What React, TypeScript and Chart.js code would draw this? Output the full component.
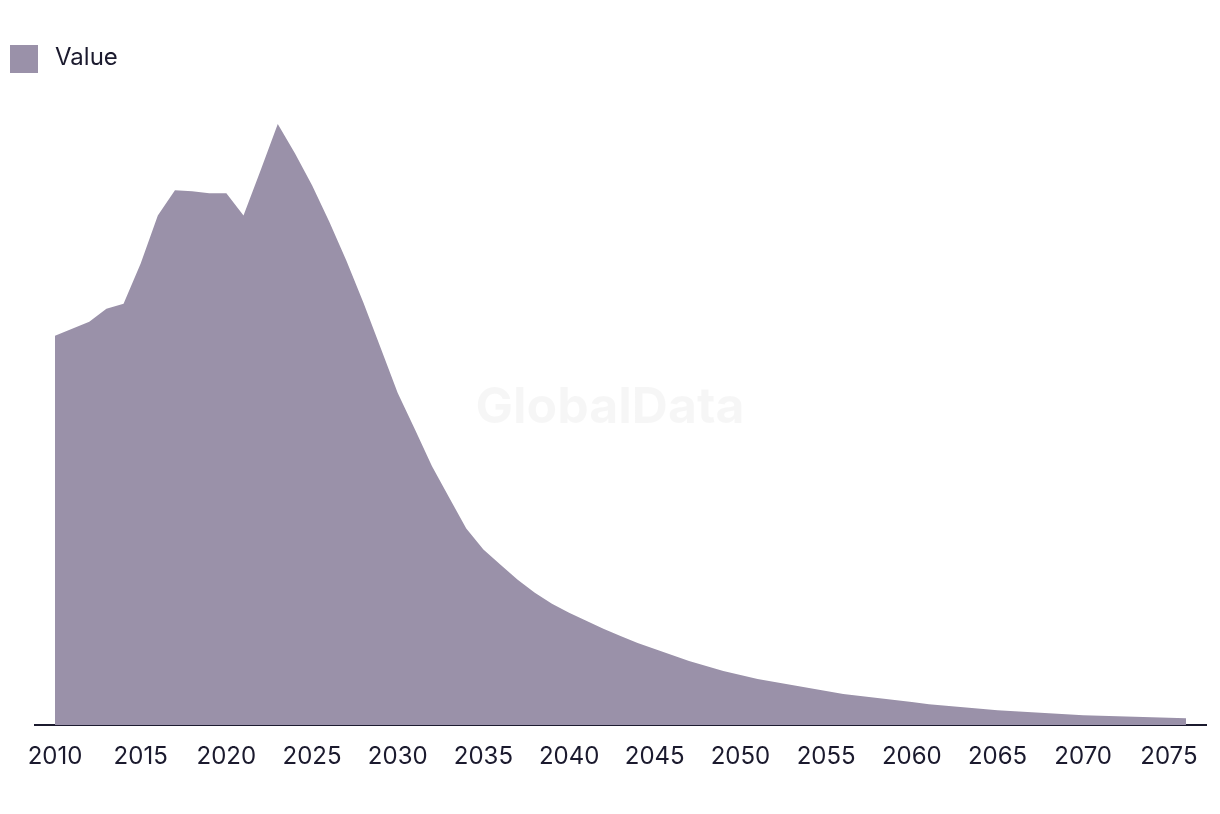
import React, { useEffect, useRef } from "react";
import { Chart, registerables } from "chart.js";

Chart.register(...registerables);

const years: number[] = [];
for (let y = 2010; y <= 2076; y++) years.push(y);

const values: number[] = [
  388, 395, 402, 415, 420, 460, 508, 533, 532, 530,
  530, 508, 553, 599, 570, 538, 502, 463, 421, 376,
  331, 295, 258, 227, 196, 175, 160, 145, 132, 121,
  112, 104, 96, 89, 82, 76, 70, 64, 59, 54,
  50, 46, 43, 40, 37, 34, 31, 29, 27, 25,
  23, 21, 19.5, 18, 16.5, 15, 14, 13, 12, 11,
  10, 9.5, 9, 8.3, 7.8, 7.4, 7,
];

const tickYears: number[] = [2010, 2015, 2020, 2025, 2030, 2035, 2040, 2045, 2050, 2055, 2060, 2065, 2070, 2075];

const seriesLabel = "Value";
const fillColor = "#9a91a9";
const textColor = "#1b1a2e";
const FONT = "Inter, 'Liberation Sans', sans-serif";

const watermarkPlugin = {
  id: "watermark",
  beforeDatasetsDraw(chart: any) {
    const ctx = chart.ctx;
    ctx.save();
    ctx.font = `bold 50px ${FONT}`;
    ctx.fillStyle = "rgba(0,0,0,0.035)";
    ctx.textAlign = "center";
    ctx.textBaseline = "middle";
    ctx.fillText("GlobalData", 610, 408);
    ctx.restore();
  },
};

const legendPlugin = {
  id: "customLegend",
  afterDraw(chart: any) {
    const ctx = chart.ctx;
    ctx.save();
    ctx.fillStyle = fillColor;
    ctx.fillRect(10, 45, 28, 28);
    ctx.font = `24px ${FONT}`;
    ctx.fillStyle = textColor;
    ctx.textAlign = "left";
    ctx.textBaseline = "middle";
    ctx.fillText(seriesLabel, 55, 58);
    ctx.restore();
  },
};

export default function App() {
  const ref = useRef<HTMLCanvasElement | null>(null);

  useEffect(() => {
    document.body.style.margin = "0";
    const canvas = ref.current;
    if (!canvas) return;
    const pxPerYear = 1171 / (66 + 40 / 17.136);
    const pad = 20 / pxPerYear;
    const chart = new Chart(canvas, {
      type: "line",
      data: {
        datasets: [
          {
            label: seriesLabel,
            data: years.map((y, i) => ({ x: y, y: values[i] })),
            backgroundColor: fillColor,
            borderColor: fillColor,
            borderWidth: 0,
            pointRadius: 0,
            fill: "origin",
            tension: 0,
          },
        ],
      },
      options: {
        animation: false,
        responsive: false,
        maintainAspectRatio: false,
        layout: { padding: { left: 35, right: 14, top: 100, bottom: 26 } },
        plugins: {
          legend: { display: false },
          tooltip: { enabled: false },
        },
        scales: {
          x: {
            type: "linear",
            min: 2010 - pad,
            max: 2076 + pad,
            afterBuildTicks: (scale: any) => {
              scale.ticks = tickYears.map((v) => ({ value: v }));
            },
            grid: { display: false, drawTicks: false },
            border: { display: true, color: textColor, width: 2 },
            ticks: {
              autoSkip: false,
              maxRotation: 0,
              padding: 17,
              color: textColor,
              font: { family: FONT, size: 24 },
              callback: (v: any) => String(v),
            },
          },
          y: {
            display: false,
            min: 0,
            max: 623,
          },
        },
      },
      plugins: [watermarkPlugin, legendPlugin],
    });
    return () => chart.destroy();
  }, []);

  return (
    <div style={{ width: 1220, height: 814 }}>
      <canvas ref={ref} width={1220} height={814} style={{ display: "block" }} />
    </div>
  );
}
